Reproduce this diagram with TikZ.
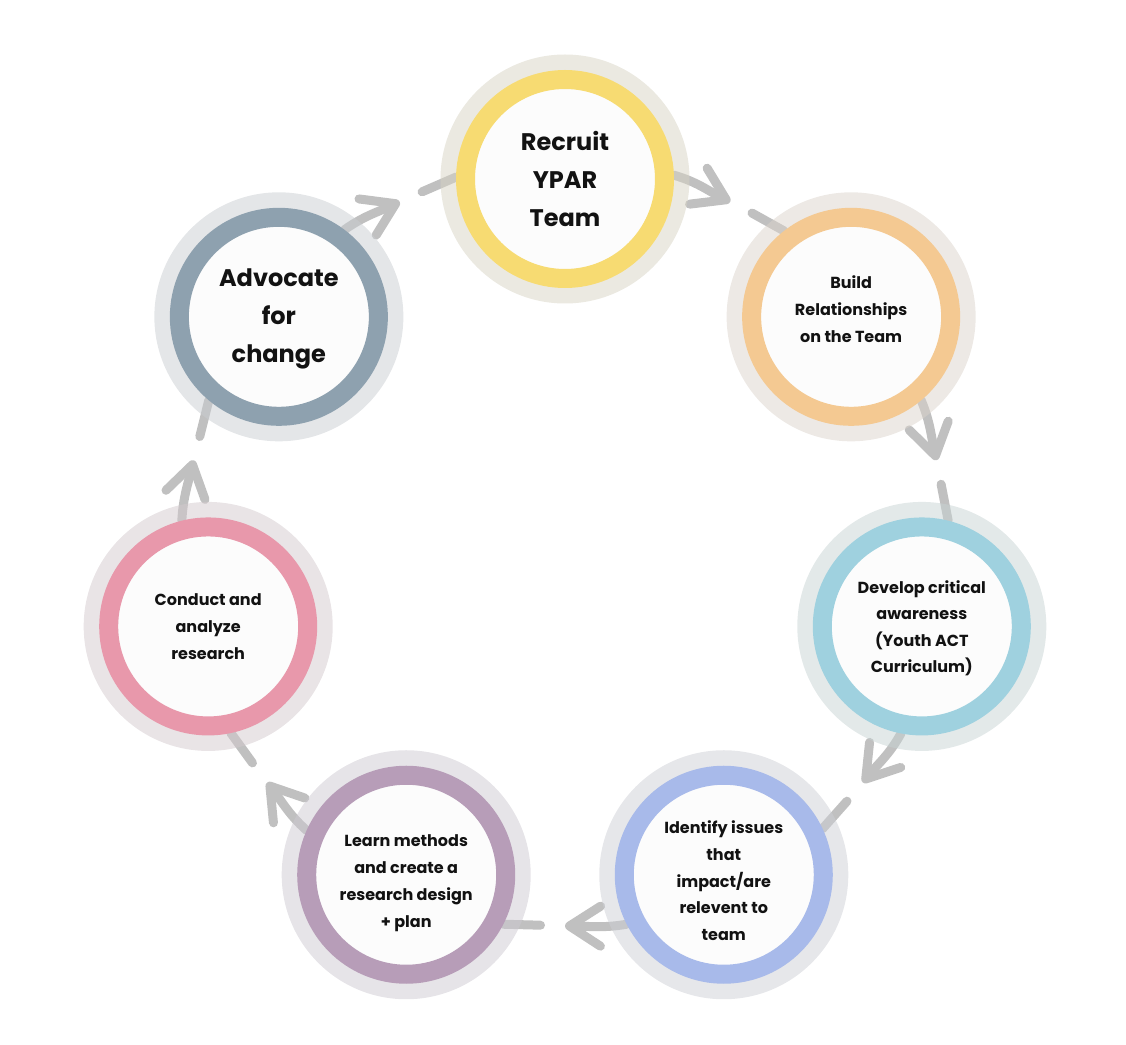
\documentclass[tikz,border=0pt]{standalone}
\usepackage{fontspec}
\setmainfont{Poppins}
\usetikzlibrary{arrows.meta}

\pgfdeclarelayer{lines}
\pgfdeclarelayer{halos}
\pgfsetlayers{lines,halos,main}

\definecolor{recruitRing}{HTML}{F7DB72}  \definecolor{recruitHalo}{HTML}{D7D3C3}
\definecolor{buildRing}{HTML}{F4C992}    \definecolor{buildHalo}{HTML}{DBD3CB}
\definecolor{developRing}{HTML}{9FD1DF}  \definecolor{developHalo}{HTML}{C7D3D3}
\definecolor{identifyRing}{HTML}{A8BAEA} \definecolor{identifyHalo}{HTML}{CDCFD5}
\definecolor{learnRing}{HTML}{B79DB8}    \definecolor{learnHalo}{HTML}{CDC9D1}
\definecolor{conductRing}{HTML}{E898AB}  \definecolor{conductHalo}{HTML}{D3C9CD}
\definecolor{advocateRing}{HTML}{8EA1AF} \definecolor{advocateHalo}{HTML}{C9CDD1}
\definecolor{flowgray}{HTML}{C0C0C0}
\definecolor{centre}{HTML}{FCFCFC}

\tikzset{
  halo/.style={circle,minimum size=249pt,inner sep=0pt,fill opacity=0.5},
  stage/.style={circle,minimum size=199pt,inner sep=0pt,line width=19pt,outer sep=9.5pt,fill=centre,align=center,text=black!93},
  flow/.style={draw=flowgray,line width=9pt,line cap=round,-{Straight Barb[length=31pt,width=40pt,round]}},
  stub/.style={draw=flowgray,line width=9pt,line cap=round}
}

\begin{document}
\begin{tikzpicture}[x=1pt,y=1pt]
    \useasboundingbox (-565,-499) rectangle (561,545);
    % the seven stages round the cycle
    \foreach \stage/\fs/\bs/\dy/\txt [count=\k from 0] in {recruit/24/38/0/{Recruit\\YPAR\\Team},build/16/27/8/{Build\\Relationships\\on the Team},develop/16/26.5/-2/{Develop critical\\awareness\\(Youth ACT\\Curriculum)},identify/16/26.7/-6/{Identify issues\\that\\impact/are\\relevent to\\team},learn/16/27/-8/{Learn methods\\and create a\\research design\\+ plan},conduct/16/27/0/{Conduct and\\analyze\\research},advocate/24/38/-2/{Advocate\\for\\change}}
    {
        \node[stage,draw=\stage Ring] (\stage) at ({90-\k*360/7}:366) {};
        \node[font=\fontsize{\fs}{\bs}\selectfont\bfseries,align=center,text=black!93] (\stage text) at ([yshift=\dy]\stage) {\txt};
        \begin{pgfonlayer}{halos}
            \node[halo,fill=\stage Halo] (\stage halo) at (\stage) {};
        \end{pgfonlayer}
    }
    % arrows, broken after the head
    \foreach \from/\to [count=\k from 0] in {recruit/build,build/develop,develop/identify,identify/learn,learn/conduct,conduct/advocate,advocate/recruit}
    {
        \pgfmathsetmacro\a{90-\k*360/7}
        \pgfmathtruncatemacro\sa{mod(\a-88+720,360)}
        \pgfmathtruncatemacro\ea{mod(\a+38+720,360)}
        \coordinate (\from tip) at ({\a-25.71}:381);
        \coordinate (\from gap) at ({\a-29.4}:381);
        \begin{pgfonlayer}{lines}
            \draw[flow] (\from.\sa) to[out={\a-106},in={\a+64}] (\from tip);
            \draw[stub] (\from gap) -- (\to.\ea);
        \end{pgfonlayer}
    }
\end{tikzpicture}
\end{document}
